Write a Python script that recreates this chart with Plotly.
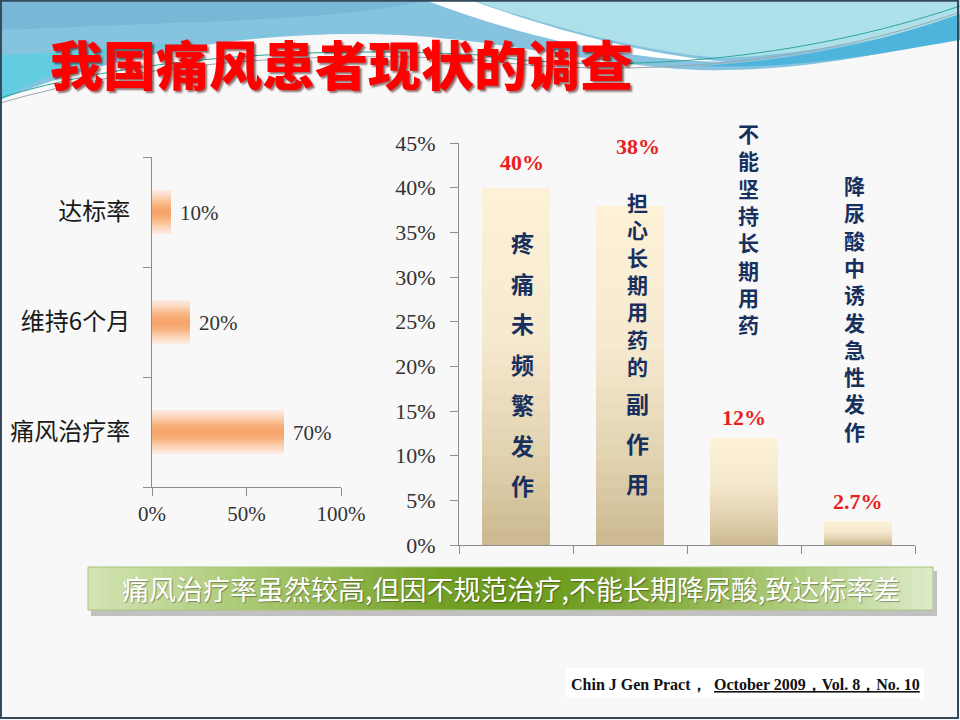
import plotly.graph_objects as go

# ---------------- data ----------------
left_categories = ["达标率", "维持6个月", "痛风治疗率"]
left_values = [10, 20, 70]
left_labels = ["10%", "20%", "70%"]
left_ticks = [0, 50, 100]
left_ticktext = ["0%", "50%", "100%"]

right_categories = ["疼痛未频繁发作", "担心长期用药的副作用", "不能坚持长期用药", "降尿酸中诱发急性发作"]
right_values = [40, 38, 12, 2.7]
right_labels = ["40%", "38%", "12%", "2.7%"]
right_ticks = [0, 5, 10, 15, 20, 25, 30, 35, 40, 45]
right_ticktext = ["0%", "5%", "10%", "15%", "20%", "25%", "30%", "35%", "40%", "45%"]

title_text = "我国痛风患者现状的调查"
banner_text = "痛风治疗率虽然较高,但因不规范治疗,不能长期降尿酸,致达标率差"
cite_plain = "Chin J Gen Pract，"
cite_under = "October 2009，Vol. 8，No. 10"

# ---------------- helpers ----------------
W, H = 960, 720


def px(x, y):
    return f"{x / W:.5f},{1 - y / H:.5f}"


def pth(cmds):
    out = []
    for c in cmds:
        if isinstance(c, str):
            out.append(c)
        else:
            out.append(px(*c))
    return " ".join(out)


def hex2rgb(h):
    h = h.lstrip("#")
    return [int(h[i:i + 2], 16) for i in (0, 2, 4)]


def mix(c1, c2, t):
    a, b = hex2rgb(c1), hex2rgb(c2)
    return "rgb({},{},{})".format(*[round(a[i] + (b[i] - a[i]) * t) for i in range(3)])


def stops_color(stops, p):
    for (p0, c0), (p1, c1) in zip(stops, stops[1:]):
        if p0 <= p <= p1:
            return mix(c0, c1, (p - p0) / (p1 - p0) if p1 > p0 else 0)
    return mix(stops[-1][1], stops[-1][1], 0)


serif = "Liberation Serif"
cjk = "Noto Sans CJK SC"

fig = go.Figure()

# ---------------- left chart: horizontal bars with band gradient ----------------
NL = 16
lgrad = [(0.0, "#F6A165"), (0.35, "#F8B27E"), (0.7, "#FBD3B5"), (1.0, "#FDEBE2")]
for k in range(NL):
    frac = 1 - k / NL
    fig.add_trace(go.Bar(
        x=left_values, y=left_categories, orientation="h", width=0.40 * frac,
        marker=dict(color=stops_color(lgrad, frac), line=dict(width=0)), xaxis="x", yaxis="y",
        hoverinfo="skip", showlegend=False))

# ---------------- right chart: vertical bars with vertical gradient ----------------
N = 24
grad = [(0.0, "#C9B68D"), (0.3, "#E3D4B2"), (0.6, "#F5E9CF"), (1.0, "#FDF1D8")]
for k in range(N):
    frac = 1 - k / N
    fig.add_trace(go.Bar(
        x=right_categories, y=[v * frac for v in right_values], width=0.6,
        marker=dict(color=stops_color(grad, frac), line=dict(width=0)),
        xaxis="x2", yaxis="y2", hoverinfo="skip", showlegend=False))

axis_col = "#8C8C8C"
fig.update_layout(
    width=W, height=H, margin=dict(l=0, r=0, t=0, b=0, pad=0, autoexpand=False),
    paper_bgcolor="#F8F8F8", plot_bgcolor="rgba(0,0,0,0)",
    barmode="overlay", bargap=0, showlegend=False,
    xaxis=dict(domain=[152 / W, 341 / W], anchor="y", range=[0, 100],
               tickvals=left_ticks, ticktext=left_ticktext,
               ticks="outside", ticklen=8, tickcolor=axis_col,
               showline=True, linecolor=axis_col, linewidth=1,
               showgrid=False, zeroline=False,
               tickfont=dict(family=serif, size=21, color="#333333")),
    yaxis=dict(domain=[1 - 487 / H, 1 - 157 / H], anchor="x", type="category",
               categoryorder="array", categoryarray=list(reversed(left_categories)),
               range=[-0.5, 2.5], tickson="boundaries",
               ticks="outside", ticklen=8, tickcolor=axis_col,
               showline=True, linecolor=axis_col, linewidth=1,
               showgrid=False, zeroline=False, ticklabelstandoff=16,
               tickfont=dict(family=cjk, size=24, color="#1A1A1A")),
    xaxis2=dict(domain=[459 / W, 915 / W], anchor="y2", type="category",
                categoryorder="array", categoryarray=right_categories,
                range=[-0.5, 3.5], tickson="boundaries",
                ticks="outside", ticklen=8, tickcolor=axis_col,
                showticklabels=False,
                showline=True, linecolor=axis_col, linewidth=1,
                showgrid=False, zeroline=False),
    yaxis2=dict(domain=[1 - 545 / H, 1 - 143 / H], anchor="x2", range=[0, 45],
                tickvals=right_ticks, ticktext=right_ticktext,
                ticks="outside", ticklen=8, tickcolor=axis_col,
                showline=True, linecolor=axis_col, linewidth=1,
                showgrid=False, zeroline=False, ticklabelstandoff=10,
                tickfont=dict(family=serif, size=22, color="#333333")),
)

ann = []
# left value labels
for v, c, t in zip(left_values, left_categories, left_labels):
    ann.append(dict(x=v, y=c, xref="x", yref="y", text=t, showarrow=False,
                    xanchor="left", xshift=7, yshift=-1,
                    font=dict(family=serif, size=21, color="#333333")))

# right red value labels
red_shift = [25, 59, 20, 19]
red_xshift = [6, 8, 0, 0]
for c, v, t, s, xs in zip(right_categories, right_values, right_labels, red_shift, red_xshift):
    ann.append(dict(x=c, y=v, xref="x2", yref="y2", text=f"<b>{t}</b>", showarrow=False,
                    yanchor="middle", yshift=s, xshift=xs,
                    font=dict(family=serif, size=22, color="#E8211F")))

# vertical category text: (xshift, [(n_chars, first_y_px, step_px, mode)])
text_style = [
    (6, [(7, 242, 40.5, "spaced")]),
    (7, [(7, 202, 27.3, "tight"), (3, 403, 40.0, "spaced")]),
    (4, [(8, 133, 27.3, "tight")]),
    (-4, [(10, 187, 27.0, "tight")]),
]
navy = "#17305E"
for c, (xs, segs) in zip(right_categories, text_style):
    pos = 0
    for n, y0, step, mode in segs:
        chars = c[pos:pos + n]
        pos += n
        if mode == "tight":
            yc = y0 + step * (n - 1) / 2
            ann.append(dict(x=c, y=1 - yc / H, xref="x2", yref="paper", text="<br>".join(chars),
                            showarrow=False, xshift=xs, yanchor="middle", align="center",
                            font=dict(family=cjk, size=21, color=navy, weight="bold")))
        else:
            for i, ch in enumerate(chars):
                yy = y0 + step * i
                ann.append(dict(x=c, y=1 - yy / H, xref="x2", yref="paper", text=ch,
                                showarrow=False, xshift=xs, yanchor="middle",
                                font=dict(family=cjk, size=23, color=navy, weight="bold")))

# title
ann.append(dict(x=48 / W, y=1 - 63 / H, xref="paper", yref="paper", text=title_text,
                showarrow=False, xanchor="left", yanchor="middle",
                font=dict(family=cjk, size=53, color="#FF0000", weight=900,
                          shadow="2px 2px 2px rgba(60,0,0,0.55)")))

# banner text
ann.append(dict(x=511 / W, y=1 - 588 / H, xref="paper", yref="paper", text=banner_text,
                showarrow=False, xanchor="center", yanchor="middle",
                font=dict(family=cjk, size=27, color="#FFFFFF",
                          shadow="1px 1px 1px rgba(0,0,0,0.35)")))

# citation
ann.append(dict(x=709 / W, y=1 - 684 / H, xref="paper", yref="paper", text=cite_plain,
                showarrow=False, xanchor="right", yanchor="middle",
                font=dict(family=serif, size=16, color="#111111", weight="bold")))
ann.append(dict(x=712 / W, y=1 - 684 / H, xref="paper", yref="paper", text=cite_under,
                showarrow=False, xanchor="left", yanchor="middle",
                font=dict(family=serif, size=16, color="#111111", weight="bold",
                          lineposition="under")))

shapes = []
# top decorative waves
shapes.append(dict(type="path", xref="paper", yref="paper", layer="below", line=dict(width=0),
                   fillcolor="#86C3DE",
                   path=pth(["M", (0, 0), "L", (960, 0), "L", (960, 36), "C", (880, 56), (790, 72), (700, 70),
                             "C", (600, 66), (520, 42), (400, 35), "C", (300, 30), (150, 40), (0, 100), "Z"])))
shapes.append(dict(type="path", xref="paper", yref="paper", layer="below", line=dict(width=0),
                   fillcolor="#7AB6D6",
                   path=pth(["M", (0, 0), "L", (430, 0), "C", (380, 12), (300, 18), (200, 22),
                             "C", (120, 25), (50, 28), (0, 30), "Z"])))
shapes.append(dict(type="path", xref="paper", yref="paper", layer="below", line=dict(width=0),
                   fillcolor="#62CDE0",
                   path=pth(["M", (0, 55), "C", (90, 52), (180, 42), (300, 33), "C", (150, 40), (60, 65), (0, 100), "Z"])))
shapes.append(dict(type="path", xref="paper", yref="paper", layer="below", line=dict(width=0),
                   fillcolor="#AEE0EA",
                   path=pth(["M", (470, 0), "L", (960, 0), "L", (960, 22), "C", (880, 40), (800, 55), (720, 58),
                             "C", (630, 50), (550, 25), (470, 0), "Z"])))
shapes.append(dict(type="path", xref="paper", yref="paper", layer="below", line=dict(width=0),
                   fillcolor="#4FB4DC",
                   path=pth(["M", (960, 14), "C", (880, 42), (800, 60), (700, 66), "C", (800, 70), (890, 52), (960, 40), "Z"])))
shapes.append(dict(type="path", xref="paper", yref="paper", layer="below", line=dict(width=0),
                   fillcolor="#FFFFFF",
                   path=pth(["M", (425, 0), "L", (470, 0), "C", (550, 28), (630, 52), (725, 62),
                             "C", (620, 60), (520, 36), (425, 0), "Z"])))
for col, pts in [("#2AA89E", [(0, 98), (120, 60), (300, 45), (480, 55)]),
                 ("#2AA89E", [(480, 55), (620, 75), (800, 60), (960, 6)]),
                 ("#9AA8B0", [(0, 103), (140, 62), (320, 50), (480, 60)]),
                 ("#9AA8B0", [(480, 60), (640, 80), (820, 62), (960, 12)])]:
    shapes.append(dict(type="path", xref="paper", yref="paper", layer="below",
                       line=dict(width=1, color=col),
                       path=pth(["M", pts[0], "C", pts[1], pts[2], pts[3]])))

# banner shadow + gradient strips
shapes.append(dict(type="rect", xref="paper", yref="paper", layer="below",
                   x0=91 / W, x1=937 / W, y0=1 - 616 / H, y1=1 - 571 / H,
                   fillcolor="rgba(0,0,0,0.22)", line=dict(width=0)))
bx0, bx1, nstrip = 88, 933, 80
bstops = [(0.0, "#D3E5B5"), (0.2, "#A8C770"), (0.4, "#76A22A"), (0.5, "#6A9A1C"),
          (0.62, "#76A22A"), (0.82, "#ACCA78"), (1.0, "#DDEBC8")]
for i in range(nstrip):
    xa = bx0 + (bx1 - bx0) * i / nstrip
    xb = bx0 + (bx1 - bx0) * (i + 1) / nstrip
    p = (i + 0.5) / nstrip
    shapes.append(dict(type="rect", xref="paper", yref="paper", layer="below",
                       x0=xa / W, x1=(xb + 0.6) / W, y0=1 - 610 / H, y1=1 - 567 / H,
                       fillcolor=stops_color(bstops, p), line=dict(width=0)))
shapes.append(dict(type="rect", xref="paper", yref="paper", layer="below",
                   x0=bx0 / W, x1=bx1 / W, y0=1 - 610 / H, y1=1 - 567 / H,
                   fillcolor="rgba(0,0,0,0)", line=dict(width=1, color="#A9C47C")))
# citation white box
shapes.append(dict(type="rect", xref="paper", yref="paper", layer="below",
                   x0=566 / W, x1=924 / W, y0=1 - 698 / H, y1=1 - 668 / H,
                   fillcolor="#FFFFFF", line=dict(width=0)))
# slide border
shapes.append(dict(type="rect", xref="paper", yref="paper", layer="above",
                   x0=0.001, x1=958 / W, y0=1 - 718 / H, y1=0.999,
                   fillcolor="rgba(0,0,0,0)", line=dict(width=2, color="#34495A")))

fig.update_layout(annotations=ann, shapes=shapes)

fig.write_html("out.html", config={"displayModeBar": False},
               post_script="document.body.style.margin='0';")
